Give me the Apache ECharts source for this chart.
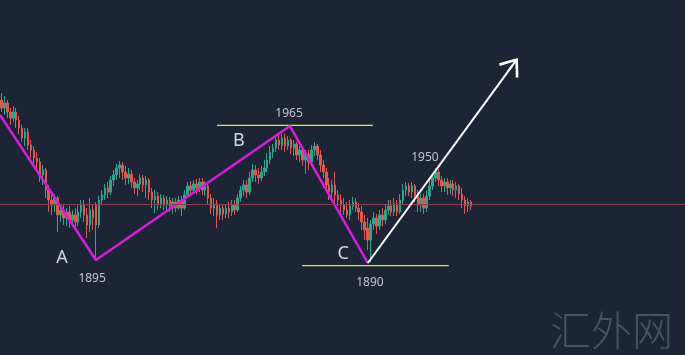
<!DOCTYPE html>
<html><head><meta charset="utf-8">
<script src="https://cdn.jsdelivr.net/npm/echarts@6/dist/echarts.min.js"></script>
<style>html,body{margin:0;padding:0;background:#1d2436;}#c{width:685px;height:355px;}</style>
</head><body><div id="c"></div>
<script>
const opens = [1979.4,1975.0,1977.8,1972.8,1969.4,1972.8,1968.3,1963.9,1958.3,1961.7,
1954.4,1951.7,1947.2,1945.0,1937.8,1940.6,1929.4,1923.9,1921.1,1925.0,
1915.6,1918.3,1913.9,1917.2,1912.8,1915.6,1911.7,1917.2,1921.1,1915.6,
1910.0,1918.3,1921.1,1910.0,1923.9,1926.7,1930.6,1928.3,1935.0,1937.8,
1941.7,1943.3,1939.4,1936.1,1938.3,1933.9,1930.6,1932.8,1936.1,1932.2,
1935.0,1928.3,1923.9,1926.1,1921.7,1925.0,1921.1,1923.9,1920.6,1922.8,
1919.4,1923.9,1919.4,1926.7,1931.7,1929.4,1932.8,1930.6,1933.9,1929.4,
1931.7,1925.0,1919.4,1921.7,1915.6,1919.4,1916.1,1919.4,1917.2,1921.1,
1918.3,1925.0,1929.4,1932.2,1928.3,1936.1,1940.6,1937.8,1936.1,1939.4,
1941.7,1946.1,1950.6,1952.8,1957.2,1954.4,1958.3,1953.9,1957.2,1952.8,
1955.0,1948.9,1951.7,1946.1,1949.4,1945.0,1951.7,1953.9,1948.9,1943.3,
1939.4,1932.2,1928.3,1932.2,1926.7,1923.9,1921.1,1918.3,1915.6,1920.6,
1922.8,1919.4,1917.2,1911.7,1908.3,1901.7,1910.6,1913.9,1909.4,1915.6,
1912.8,1918.3,1920.6,1917.2,1921.7,1917.2,1923.9,1929.4,1931.7,1928.3,
1931.7,1926.1,1921.1,1925.0,1919.4,1926.1,1931.7,1936.1,1939.4,1935.0,
1931.7,1933.9,1930.6,1932.8,1929.4,1931.7,1927.2,1923.9,1920.6,1922.8];
const closes = [1975.0,1977.8,1972.8,1969.4,1972.8,1968.3,1963.9,1958.3,1961.7,1954.4,
1951.7,1947.2,1945.0,1937.8,1940.6,1929.4,1923.9,1921.1,1925.0,1915.6,
1918.3,1913.9,1917.2,1912.8,1915.6,1911.7,1917.2,1921.1,1915.6,1910.0,
1918.3,1913.9,1910.0,1923.9,1926.7,1930.6,1928.3,1935.0,1937.8,1941.7,
1943.3,1939.4,1936.1,1938.3,1933.9,1930.6,1932.8,1936.1,1932.2,1935.0,
1928.3,1923.9,1926.1,1921.7,1925.0,1921.1,1923.9,1920.6,1922.8,1919.4,
1923.9,1919.4,1926.7,1931.7,1929.4,1932.8,1930.6,1933.9,1929.4,1931.7,
1925.0,1919.4,1921.7,1915.6,1919.4,1916.1,1919.4,1917.2,1921.1,1918.3,
1925.0,1929.4,1932.2,1928.3,1936.1,1940.6,1937.8,1936.1,1939.4,1941.7,
1946.1,1950.6,1952.8,1957.2,1954.4,1958.3,1953.9,1957.2,1952.8,1955.0,
1948.9,1951.7,1946.1,1949.4,1945.0,1951.7,1953.9,1948.9,1943.3,1939.4,
1932.2,1928.3,1932.2,1926.7,1923.9,1921.1,1918.3,1915.6,1920.6,1922.8,
1919.4,1917.2,1911.7,1907.2,1901.7,1910.6,1913.9,1909.4,1915.6,1912.8,
1918.3,1920.6,1917.2,1921.7,1917.2,1923.9,1929.4,1931.7,1928.3,1931.7,
1926.1,1921.1,1925.0,1919.4,1926.1,1931.7,1936.1,1939.4,1935.0,1931.7,
1933.9,1930.6,1932.8,1929.4,1931.7,1927.2,1923.9,1920.6,1922.8,1920.6];
const lows = [1972.8,1971.1,1969.4,1965.6,1967.2,1963.9,1960.6,1956.1,1953.9,1951.7,
1947.2,1943.9,1939.4,1933.9,1932.2,1925.0,1917.2,1915.6,1917.2,1906.1,
1911.7,1910.0,1909.4,1908.3,1910.0,1907.2,1909.4,1913.9,1911.7,1902.8,
1906.1,1907.2,1891.7,1908.3,1921.1,1923.9,1925.0,1926.7,1931.7,1935.0,
1936.1,1935.0,1932.2,1932.8,1930.6,1927.2,1926.1,1929.4,1928.3,1925.0,
1923.9,1919.4,1916.7,1918.3,1919.4,1918.3,1917.2,1917.2,1916.1,1917.2,
1918.3,1915.0,1918.3,1925.0,1926.7,1927.2,1927.2,1928.3,1926.7,1926.1,
1921.7,1916.1,1915.0,1908.3,1912.8,1912.8,1913.9,1913.9,1915.0,1915.6,
1917.2,1922.8,1926.1,1925.0,1926.7,1933.9,1933.9,1932.8,1934.4,1937.2,
1939.4,1943.9,1947.2,1950.6,1951.7,1951.7,1950.6,1951.7,1949.4,1948.3,
1946.1,1945.0,1942.8,1938.3,1940.6,1942.8,1948.3,1946.1,1939.4,1936.1,
1928.3,1923.9,1925.0,1922.8,1920.6,1917.2,1915.6,1913.9,1912.8,1918.3,
1917.2,1912.8,1907.2,1901.7,1896.1,1889.4,1907.2,1905.0,1907.2,1909.4,
1910.6,1915.6,1915.0,1915.0,1915.0,1916.1,1921.7,1926.1,1926.1,1925.0,
1922.8,1917.2,1917.2,1916.1,1917.2,1923.9,1929.4,1933.9,1931.7,1928.3,
1928.3,1926.7,1927.2,1926.1,1925.0,1923.9,1919.4,1916.1,1917.2,1918.3];
const highs = [1983.3,1981.7,1979.4,1975.0,1976.1,1975.0,1970.6,1965.6,1963.9,1963.9,
1957.2,1953.9,1950.6,1947.2,1943.3,1941.7,1932.2,1928.3,1927.2,1926.1,
1921.1,1921.1,1919.4,1920.6,1918.3,1919.4,1921.1,1923.9,1923.9,1919.4,
1925.0,1921.1,1922.8,1926.1,1929.4,1932.8,1933.9,1937.2,1940.6,1943.9,
1945.6,1945.0,1942.8,1941.7,1940.6,1936.1,1935.0,1938.3,1937.8,1937.2,
1936.1,1930.6,1929.4,1928.3,1927.2,1926.7,1926.1,1925.6,1925.0,1925.0,
1926.1,1926.1,1929.4,1933.9,1934.4,1935.0,1935.6,1936.1,1936.1,1934.4,
1932.8,1927.2,1925.0,1923.9,1921.7,1921.1,1921.7,1922.8,1923.9,1923.9,
1927.2,1931.7,1935.0,1935.0,1939.4,1943.9,1943.3,1941.7,1942.8,1946.1,
1950.0,1953.9,1955.0,1959.4,1960.6,1960.6,1960.6,1959.4,1958.3,1957.2,
1956.1,1953.9,1952.8,1951.7,1951.7,1954.4,1956.1,1955.0,1951.7,1946.1,
1941.7,1936.1,1935.0,1939.4,1929.4,1927.2,1925.0,1922.8,1923.9,1925.6,
1925.0,1922.2,1920.6,1915.6,1913.9,1912.8,1917.2,1916.1,1918.3,1919.4,
1921.1,1923.9,1923.9,1925.0,1923.9,1927.2,1932.8,1933.9,1933.3,1933.9,
1932.8,1929.4,1927.2,1927.2,1929.4,1935.0,1938.3,1941.7,1941.1,1937.2,
1936.1,1936.1,1935.0,1935.0,1933.9,1932.8,1930.6,1926.1,1925.0,1923.9];

// Slot count of the horizontal axis (candles fill the first part, the rest is empty space)
const slotCount = 232;
// Wave pivots: [slot position, price]
const waveX = [0, 32.5, 98.2, 124.6];
const waveY = [1971.1, 1890.6, 1965.0, 1888.9];
// Projection arrow: from C to target
const arrowFrom = [124.6, 1888.9];
const arrowTo = [175.4, 2002.8];
// Horizontal reference levels
const topLevelX = [73.5, 126.3];
const topLevel = 1965.3;
const bottomLevelX = [102.3, 152.0];
const bottomLevel = 1887.5;
const midLevel = 1921.4;
// Annotation texts
const noteText = ['1965', 'B', 'A', '1895', 'C', '1890', '1950'];
const noteX = [97.9, 80.9, 21.0, 31.2, 116.2, 125.3, 143.9];
const noteY = [1971.7, 1956.7, 1891.7, 1880.0, 1893.9, 1878.3, 1947.2];

const categories = Array.from({length: slotCount}, (_, i) => String(i));
const candleData = opens.map((o, i) => [o, closes[i], lows[i], highs[i]]);

const chart = echarts.init(document.getElementById('c'), null, {renderer: 'canvas'});

// arrow tip offset so the chevron tip lands on arrowTo
const yPerPx = (2035 - 1837.8) / 355, xPerPx = slotCount / 685;
const dxp = (arrowTo[0] - arrowFrom[0]) / xPerPx, dyp = (arrowTo[1] - arrowFrom[1]) / yPerPx;
const len = Math.hypot(dxp, dyp);
const half = 8.5;
const arrowMid = [arrowTo[0] - dxp / len * half * xPerPx, arrowTo[1] - dyp / len * half * yPerPx];

const letterStyle = {fontSize: 18, color: '#ffffff', fontFamily: 'Noto Sans'};
const numStyle = {fontSize: 12, color: '#e8e8e8', fontFamily: 'Noto Sans'};

chart.setOption({
  animation: false,
  backgroundColor: '#1d2436',
  grid: {left: 0, right: 0, top: 0, bottom: 0},
  xAxis: [
    {type: 'category', data: categories, boundaryGap: true, show: false},
    {type: 'value', min: 0, max: slotCount, show: false}
  ],
  yAxis: {type: 'value', min: 1837.8, max: 2035, show: false, splitLine: {show: false}},
  graphic: [{
    type: 'text', right: 12, bottom: 4,
    style: {text: '汇外网', fontSize: 41, fill: '#4a5163', fontFamily: 'Noto Sans CJK SC', fontWeight: 300}
  }],
  series: [
    {
      type: 'line', xAxisIndex: 1, data: [], silent: true,
      markLine: {
        silent: true, symbol: ['none', 'none'],
        lineStyle: {color: '#86404f', width: 1, type: 'solid'},
        label: {show: false},
        data: [{yAxis: midLevel}]
      }
    },
    {
      type: 'candlestick', xAxisIndex: 0, data: candleData, barWidth: 2,
      itemStyle: {color: '#2fa58c', color0: '#dc5a50', borderColor: '#2fa58c', borderColor0: '#dc5a50', borderWidth: 1}
    },
    {
      type: 'line', xAxisIndex: 1, symbol: 'none', color: '#e6e619',
      lineStyle: {color: '#e6e619', width: 1.2},
      data: [[topLevelX[0], topLevel], [topLevelX[1], topLevel]]
    },
    {
      type: 'line', xAxisIndex: 1, symbol: 'none', color: '#e6e619',
      lineStyle: {color: '#e6e619', width: 1.2},
      data: [[bottomLevelX[0], bottomLevel], [bottomLevelX[1], bottomLevel]]
    },
    {
      type: 'line', xAxisIndex: 1, symbol: 'none',
      lineStyle: {color: '#d61fd8', width: 2.5},
      data: waveX.map((x, i) => [x, waveY[i]])
    },
    {
      type: 'line', xAxisIndex: 1, data: [], silent: true,
      markLine: {
        silent: true,
        symbol: ['none', 'path://M50,0 L100,70 L91,77 L54,25 L54,77 L46,77 L46,25 L9,77 L0,70 Z'],
        symbolSize: [24, 17],
        lineStyle: {color: '#ffffff', width: 2, type: 'solid'},
        itemStyle: {color: '#ffffff'},
        label: {show: false},
        data: [[{coord: arrowFrom}, {coord: arrowMid}]]
      }
    },
    {
      type: 'scatter', xAxisIndex: 1, symbolSize: 0, silent: true,
      label: {show: true, position: 'inside', formatter: '{b}'},
      data: noteText.map((t, i) => ({
        name: t, value: [noteX[i], noteY[i]],
        label: (t.length === 1 ? letterStyle : numStyle)
      }))
    }
  ]
});
</script></body></html>
